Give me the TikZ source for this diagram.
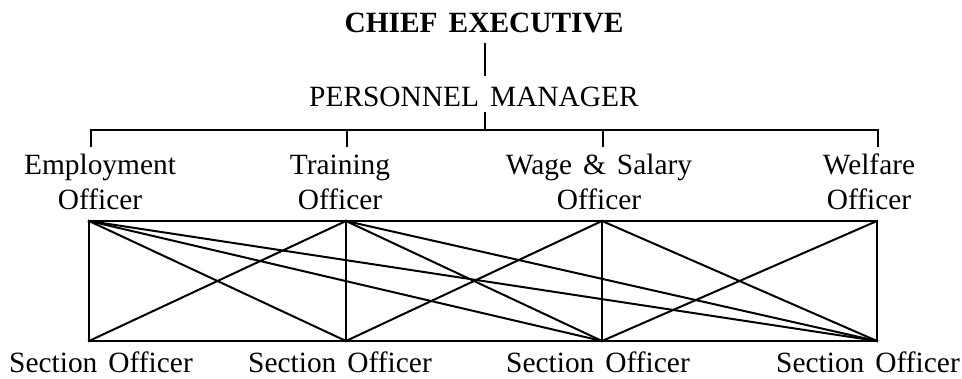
\documentclass[tikz,border=0pt]{standalone}
\usepackage{fontspec}
\setmainfont[WordSpace=1.5]{Liberation Serif}
\begin{document}
\begin{tikzpicture}[x=1pt,y=-1pt,
  lbl/.style={font=\fontsize{29.4}{35}\selectfont, inner sep=0pt, anchor=base},
  conn/.style={line width=2pt, line cap=rect, line join=miter}]
\useasboundingbox (0,0) rectangle (962,379);
% titles
\node[lbl, font=\fontsize{29.4}{35}\selectfont\bfseries] (ce) at (484,33) {CHIEF EXECUTIVE};
\node[lbl] (pm) at (474,107) {PERSONNEL MANAGER};
\coordinate (ceb) at (485,43);
\coordinate (pmt) at (485,76);
\coordinate (pmb) at (485,112);
\coordinate (bar) at (485,130);
% officers
\node[lbl] (emp1) at (100,175) {Employment};
\node[lbl] (emp2) at (100,210) {Officer};
\node[lbl] (trn1) at (340,175) {Training};
\node[lbl] (trn2) at (340,210) {Officer};
\node[lbl] (wag1) at (599,175) {Wage \& Salary};
\node[lbl] (wag2) at (599,210) {Officer};
\node[lbl] (wel1) at (869,175) {Welfare};
\node[lbl] (wel2) at (869,210) {Officer};
% section officers
\node[lbl] (s1) at (101,373) {Section Officer};
\node[lbl] (s2) at (340,373) {Section Officer};
\node[lbl] (s3) at (598,373) {Section Officer};
\node[lbl] (s4) at (868,373) {Section Officer};
% drop points
\coordinate (d1) at (91,130);  \coordinate (e1) at (91,147);
\coordinate (d2) at (347,130); \coordinate (e2) at (347,147);
\coordinate (d3) at (603,130); \coordinate (e3) at (603,147);
\coordinate (d4) at (878,130); \coordinate (e4) at (878,147);
% grid corners
\coordinate (t1) at (89,221);  \coordinate (b1) at (89,341);
\coordinate (t2) at (346,221); \coordinate (b2) at (346,341);
\coordinate (t3) at (602,221); \coordinate (b3) at (602,341);
\coordinate (t4) at (877,221); \coordinate (b4) at (877,341);
% hierarchy lines
\draw[conn, line cap=butt] (ceb) -- (pmt);
\draw[conn, line cap=butt] (pmb) -- (bar);
\draw[conn, line cap=butt] (e1) -- (d1) -- (d4) -- (e4);
\draw[conn, line cap=butt] (d2) -- (e2);
\draw[conn, line cap=butt] (d3) -- (e3);
% grid
\draw[conn] (t1) -- (t4) -- (b4) -- (b1) -- cycle;
\draw[conn] (t2) -- (b2);
\draw[conn] (t3) -- (b3);
\draw[conn] (t1) -- (b2);
\draw[conn] (t1) -- (b3);
\draw[conn] (t1) -- (b4);
\draw[conn] (t2) -- (b1);
\draw[conn] (t2) -- (b3);
\draw[conn] (t2) -- (b4);
\draw[conn] (t3) -- (b2);
\draw[conn] (t3) -- (b4);
\draw[conn] (t4) -- (b3);
\end{tikzpicture}
\end{document}
